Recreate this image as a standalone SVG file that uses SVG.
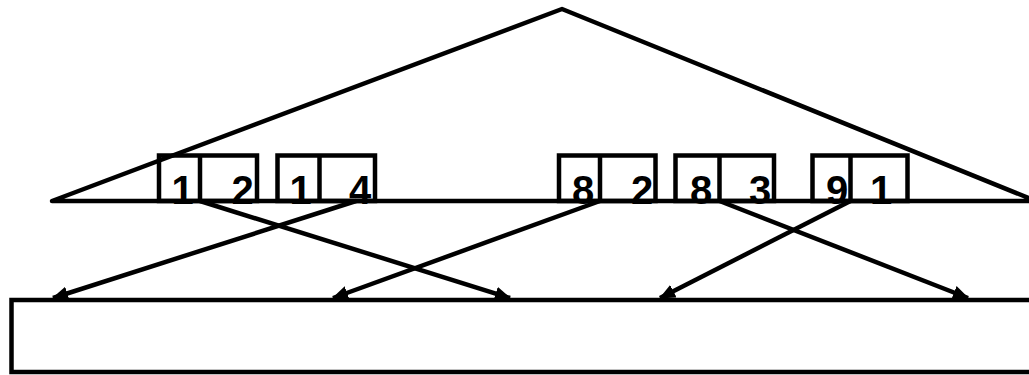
<svg xmlns="http://www.w3.org/2000/svg" width="1029" height="375" viewBox="0 0 1029 375">
<style>
.s{fill:none;stroke:#000;stroke-width:4.5;stroke-linejoin:round;stroke-linecap:round}
.b{fill:none;stroke:#000;stroke-width:4.5}
.t{font-family:"Liberation Sans",Arial,sans-serif;font-weight:bold;font-size:40px;fill:#000;text-anchor:middle}
.c{fill:none;stroke:#000;stroke-width:4.5}
</style>
<defs>
<marker id="ah" markerUnits="userSpaceOnUse" viewBox="0 0 16 14" refX="15" refY="7" markerWidth="16" markerHeight="14" orient="auto">
<path d="M0,0 L16,7 L0,14 Z" fill="#000"/>
</marker>
</defs>
<g id="triangle">
<path class="s" d="M52,201 L562,9 L1036,201 Z"/>
</g>
<g id="bottom-rect">
<rect class="b" x="11.5" y="300" width="1030" height="72"/>
</g>
<g id="node-12">
<rect class="b" x="159" y="155.5" width="98" height="45.5"/>
<line class="b" x1="200" y1="155.5" x2="200" y2="201"/>
<text class="t" x="182.5" y="204">1</text>
<text class="t" x="242.5" y="204">2</text>
</g>
<g id="node-14">
<rect class="b" x="277.5" y="155.5" width="97.5" height="45.5"/>
<line class="b" x1="319.5" y1="155.5" x2="319.5" y2="201"/>
<text class="t" x="300.5" y="204">1</text>
<text class="t" x="360" y="204">4</text>
</g>
<g id="node-82">
<rect class="b" x="559" y="155.5" width="96.5" height="45.5"/>
<line class="b" x1="600" y1="155.5" x2="600" y2="201"/>
<text class="t" x="583" y="204">8</text>
<text class="t" x="642" y="204">2</text>
</g>
<g id="node-83">
<rect class="b" x="675.5" y="155.5" width="98.5" height="45.5"/>
<line class="b" x1="719.5" y1="155.5" x2="719.5" y2="201"/>
<text class="t" x="701" y="204">8</text>
<text class="t" x="760" y="204">3</text>
</g>
<g id="node-91">
<rect class="b" x="812.5" y="155.5" width="95" height="45.5"/>
<line class="b" x1="850.5" y1="155.5" x2="850.5" y2="201"/>
<text class="t" x="837" y="204">9</text>
<text class="t" x="881" y="204">1</text>
</g>
<g id="connectors">
<line class="c" x1="200" y1="201" x2="510" y2="298" marker-end="url(#ah)"/>
<line class="c" x1="356" y1="201" x2="53" y2="298" marker-end="url(#ah)"/>
<line class="c" x1="600" y1="201" x2="333" y2="298" marker-end="url(#ah)"/>
<line class="c" x1="719.5" y1="201" x2="968" y2="298" marker-end="url(#ah)"/>
<line class="c" x1="850.5" y1="201" x2="660" y2="298" marker-end="url(#ah)"/>
</g>
</svg>
